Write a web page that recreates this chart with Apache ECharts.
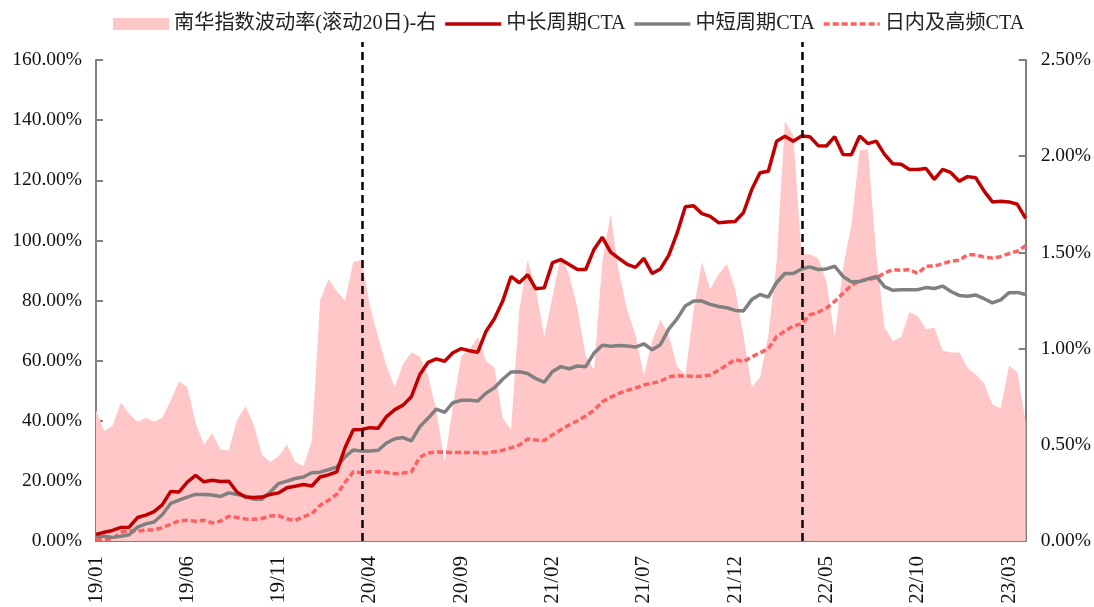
<!DOCTYPE html>
<html>
<head>
<meta charset="utf-8">
<title>CTA</title>
<script src="https://cdn.jsdelivr.net/npm/echarts@6/dist/echarts.min.js"></script>
<style>
  html, body { margin: 0; padding: 0; background: #fff; }
  #chart { width: 1094px; height: 607px; }
</style>
</head>
<body>
<div id="chart"></div>
<script>
// 双周频数据，起始 2019-01-04
const startDate = '2019-01-04'
const stepDays = 14
const labelEvery = 11          // 每 11 个点标一次 (约 5 个月)
const eventIdx = [32, 85]      // 两条黑色竖虚线

const volName = '南华指数波动率(滚动20日)-右'
const longName = '中长周期CTA'
const shortName = '中短周期CTA'
const hfName = '日内及高频CTA'

// 南华指数波动率 (%)，右轴
const volData = [
  0.68, 0.57, 0.60, 0.72, 0.66, 0.62, 0.64, 0.62, 0.64, 0.73,
  0.83, 0.80, 0.615, 0.50, 0.56, 0.475, 0.47, 0.63, 0.70, 0.605,
  0.45, 0.41, 0.44, 0.50, 0.41, 0.39, 0.52, 1.25, 1.36, 1.30,
  1.25, 1.45, 1.46, 1.22, 1.06, 0.91, 0.80, 0.92, 0.98, 0.96,
  0.86, 0.68, 0.415, 0.70, 0.96, 0.995, 1.06, 0.935, 0.90, 0.64,
  0.58, 1.20, 1.46, 1.31, 1.06, 1.27, 1.48, 1.385, 1.21, 0.96,
  0.89, 1.45, 1.70, 1.395, 1.20, 1.07, 0.86, 1.04, 1.15, 1.07,
  0.91, 0.86, 1.20, 1.45, 1.31, 1.385, 1.44, 1.31, 1.07, 0.80,
  0.85, 1.07, 1.45, 2.18, 2.11, 1.49, 1.49, 1.47, 1.35, 1.06,
  1.42, 1.64, 2.03, 2.035, 1.49, 1.11, 1.04, 1.06, 1.19, 1.17,
  1.10, 1.11, 0.99, 0.98, 0.98, 0.90, 0.865, 0.82, 0.71, 0.69,
  0.91, 0.88, 0.62
]

// 累计收益 (%)，左轴
const longCTA = [
  2.2, 2.9, 3.5, 4.5, 4.6, 7.8, 8.6, 9.8, 12.1, 16.5,
  16.3, 19.6, 21.8, 19.7, 20.2, 19.8, 19.9, 16.2, 14.6, 14.5,
  14.6, 15.5, 16.0, 17.7, 18.2, 18.8, 18.3, 21.3, 22.0, 23.0,
  31.0, 37.0, 37.1, 37.7, 37.5, 41.4, 43.7, 45.2, 48.0, 55.3,
  59.4, 60.6, 59.8, 62.6, 64.0, 63.3, 62.8, 69.8, 73.9, 79.8,
  88.0, 85.9, 88.6, 83.9, 84.2, 92.6, 93.6, 92.0, 90.3, 90.3,
  97.0, 101.0, 96.1, 94.0, 92.0, 91.0, 94.0, 89.0, 90.5, 95.0,
  102.3, 111.2, 111.5, 108.9, 108.0, 105.9, 106.1, 106.3, 109.2, 116.9,
  122.5, 123.0, 133.0, 134.6, 133.0, 134.7, 134.5, 131.5, 131.4, 134.5,
  128.6, 128.5, 134.7, 132.2, 133.0, 128.6, 125.5, 125.3, 123.6, 123.6,
  123.9, 120.3, 123.6, 122.5, 119.7, 121.2, 120.8, 116.4, 112.8, 113.0,
  112.8, 112.0, 107.3
]

const shortCTA = [
  1.6, 1.6, 1.2, 1.6, 2.1, 4.6, 5.7, 6.3, 8.8, 12.5,
  13.6, 14.6, 15.5, 15.5, 15.3, 14.8, 16.0, 15.5, 14.9, 13.9,
  13.9, 16.3, 19.1, 19.9, 20.8, 21.3, 22.7, 22.9, 23.7, 24.6,
  28.0, 30.3, 29.9, 29.9, 30.2, 32.6, 34.0, 34.4, 33.3, 38.0,
  40.8, 43.9, 42.8, 46.0, 46.8, 46.8, 46.6, 49.2, 51.0, 53.8,
  56.2, 56.3, 55.7, 54.0, 52.8, 56.4, 58.0, 57.3, 58.2, 58.0,
  62.5, 65.1, 64.8, 65.0, 64.9, 64.5, 65.6, 63.6, 65.3, 70.5,
  73.9, 78.2, 79.8, 79.8, 78.7, 78.0, 77.6, 76.7, 76.5, 80.3,
  82.0, 81.1, 86.0, 89.0, 89.0, 90.5, 91.2, 90.3, 90.5, 91.4,
  88.0, 86.2, 86.3, 87.2, 88.0, 84.6, 83.4, 83.6, 83.6, 83.6,
  84.3, 84.0, 84.8, 83.0, 81.7, 81.4, 81.8, 80.6, 79.2, 80.2,
  82.6, 82.7, 82.0
]

const hfCTA = [
  0.5, 0.5, 0.7, 2.9, 3.4, 3.3, 3.6, 3.7, 4.4, 5.6,
  6.7, 6.9, 6.6, 6.9, 6.0, 6.6, 8.2, 7.8, 7.3, 7.2,
  7.5, 8.3, 8.4, 7.4, 6.8, 8.1, 9.1, 11.9, 13.5, 15.5,
  19.5, 23.0, 22.7, 23.0, 23.0, 22.8, 22.4, 22.6, 23.0, 27.8,
  29.3, 29.6, 29.5, 29.4, 29.4, 29.4, 29.4, 29.3, 29.7, 30.2,
  31.0, 31.9, 33.9, 33.6, 33.4, 35.3, 37.0, 38.6, 40.0, 41.6,
  43.5, 46.3, 47.8, 49.1, 50.1, 50.9, 51.9, 52.5, 53.1, 54.6,
  55.0, 54.9, 54.7, 54.8, 55.2, 56.8, 58.5, 60.4, 59.6, 61.2,
  62.6, 64.0, 68.0, 69.8, 71.5, 72.2, 75.2, 76.1, 77.5, 79.7,
  82.4, 85.0, 86.5, 87.0, 87.5, 89.1, 90.3, 90.0, 90.3, 89.0,
  91.4, 91.5, 92.2, 93.1, 93.4, 95.2, 95.2, 94.4, 94.1, 94.6,
  95.6, 96.4, 98.2
]

// 日期类目
const categories = []
const t0 = new Date(startDate + 'T00:00:00Z')
for (let i = 0; i < volData.length; i++) {
  const d = new Date(t0.getTime() + i * stepDays * 86400000)
  categories.push(d.toISOString().slice(0, 10))
}

const serif = 'Liberation Serif, Noto Sans CJK SC, serif'
const axisGray = '#808080'

const chart = echarts.init(document.getElementById('chart'))

const showEvery = (idx) => idx % labelEvery === 0

const option = {
  animation: false,
  backgroundColor: '#fff',
  legend: {
    left: 108,
    top: 9,
    itemWidth: 56,
    itemHeight: 12,
    itemGap: 7,
    textStyle: { fontFamily: serif, fontSize: 20.2, color: '#222' },
    data: [
      { name: volName, icon: 'rect' },
      // 线条图例只保留线，隐藏中间的圆点
      { name: longName, itemStyle: { opacity: 0 }, lineStyle: { width: 3.5 } },
      { name: shortName, itemStyle: { opacity: 0 }, lineStyle: { width: 3.5 } },
      { name: hfName, itemStyle: { opacity: 0 }, lineStyle: { width: 3.5 } }
    ]
  },
  grid: [
    { left: 96, right: 67, top: 60, bottom: 66 },
    { left: 96, right: 67, top: 42, bottom: 66 }
  ],
  xAxis: [
    {
      type: 'category',
      gridIndex: 0,
      data: categories,
      boundaryGap: false,
      axisLine: { lineStyle: { color: axisGray, width: 2 } },
      axisTick: { inside: true, length: 7, interval: showEvery, lineStyle: { color: axisGray, width: 2 } },
      axisLabel: {
        interval: showEvery,
        rotate: 90,
        margin: 15,
        fontFamily: serif,
        fontSize: 21,
        color: '#111',
        formatter: v => v.slice(2, 4) + '/' + v.slice(5, 7)
      },
      splitLine: { show: false }
    },
    {
      type: 'category',
      gridIndex: 1,
      data: categories,
      boundaryGap: false,
      show: false
    }
  ],
  yAxis: [
    {
      type: 'value',
      gridIndex: 0,
      min: 0,
      max: 160,
      interval: 20,
      axisLine: { show: true, lineStyle: { color: axisGray, width: 2 } },
      axisTick: { show: true, inside: true, length: 7, lineStyle: { color: axisGray, width: 2 } },
      axisLabel: {
        margin: 14,
        fontFamily: serif,
        fontSize: 19.5,
        color: '#111',
        formatter: v => v.toFixed(2) + '%'
      },
      splitLine: { show: false }
    },
    {
      type: 'value',
      gridIndex: 0,
      position: 'right',
      min: 0,
      max: 2.5,
      interval: 0.5,
      axisLine: { show: true, lineStyle: { color: axisGray, width: 2 } },
      axisTick: { show: true, inside: true, length: 7, lineStyle: { color: axisGray, width: 2 } },
      axisLabel: {
        margin: 15,
        fontFamily: serif,
        fontSize: 19.5,
        color: '#111',
        formatter: v => v.toFixed(2) + '%'
      },
      splitLine: { show: false }
    },
    {
      type: 'value',
      gridIndex: 1,
      min: 0,
      max: 1,
      show: false
    }
  ],
  series: [
    {
      name: volName,
      type: 'line',
      yAxisIndex: 1,
      data: volData,
      symbol: 'none',
      lineStyle: { width: 0 },
      itemStyle: { color: '#FFC7C7' },
      areaStyle: { color: '#FFC7C7', opacity: 1 },
      z: 1
    },
    {
      name: longName,
      type: 'line',
      data: longCTA,
      symbol: 'none',
      itemStyle: { color: '#C00000' },
      lineStyle: { color: '#C00000', width: 3.5 },
      z: 4
    },
    {
      name: shortName,
      type: 'line',
      data: shortCTA,
      symbol: 'none',
      itemStyle: { color: '#808080' },
      lineStyle: { color: '#808080', width: 3.5 },
      z: 3
    },
    {
      name: hfName,
      type: 'line',
      data: hfCTA,
      symbol: 'none',
      itemStyle: { color: '#FF6161' },
      lineStyle: { color: '#FF6161', width: 3.5, type: [6, 3] },
      z: 2
    },
    {
      name: 'events',
      type: 'line',
      xAxisIndex: 1,
      yAxisIndex: 2,
      data: [],
      symbol: 'none',
      z: 5,
      markLine: {
        silent: true,
        symbol: ['none', 'none'],
        label: { show: false },
        lineStyle: { color: '#000', type: [8, 5], width: 2.5 },
        data: eventIdx.map(i => ({ xAxis: i }))
      }
    }
  ]
}

chart.setOption(option)
</script>
</body>
</html>
